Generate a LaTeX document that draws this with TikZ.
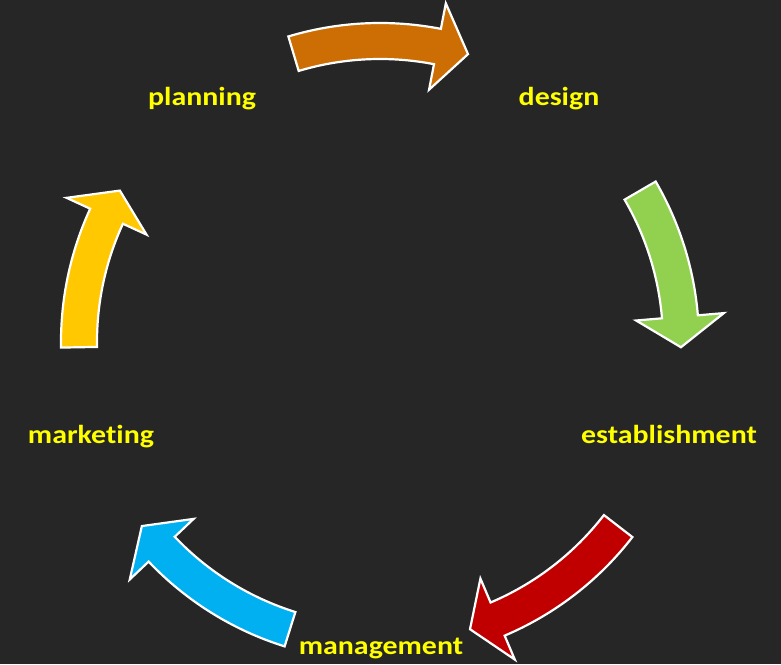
\documentclass[tikz,border=0pt]{standalone}
\usepackage{fontspec}
\setmainfont{Carlito}[FakeStretch=1.15, Ligatures=NoCommon]
\definecolor{bg}{RGB}{38,38,38}
\definecolor{cOrange}{RGB}{204,110,4}
\definecolor{cGreen}{RGB}{146,208,80}
\definecolor{cRed}{RGB}{192,0,0}
\definecolor{cBlue}{RGB}{0,176,240}
\definecolor{cGold}{RGB}{255,200,0}
\definecolor{cText}{RGB}{255,255,0}
\newcommand{\cycarrow}[5]{%
  \draw[cyclearrow, fill=#1] (#2:319) arc[start angle=#2, end angle=#3, radius=319]
    -- (#3:345) -- (#4:301) -- (#3:257) -- (#3:283)
    arc[start angle=#3, end angle=#2, radius=283] -- cycle;
  \coordinate (#5) at (#4:301);}
\begin{document}
\begin{tikzpicture}[x=1pt,y=1pt,
  cyclearrow/.style={draw=white, line width=2.2pt, line join=miter},
  lbl/.style={text=cText, font=\fontsize{26}{30}\selectfont\bfseries, anchor=base, inner sep=0pt}]
  \fill[bg] (0,0) rectangle (781,664);
  \useasboundingbox (0,0) rectangle (781,664);
  \node[lbl] (planning) at (202,558) {planning};
  \node[lbl] (design) at (559,558) {design};
  \node[lbl] (establishment) at (669,220) {establishment};
  \node[lbl] (management) at (381,10) {management};
  \node[lbl] (marketing) at (91,220) {marketing};
  \begin{scope}[shift={(380,322)}]
    \cycarrow{cOrange}{106.7}{79}{73}{tipA}
    \cycarrow{cGreen}{30.2}{4.8}{-1}{tipB}
    \cycarrow{cRed}{-37.7}{-67}{-72.6}{tipC}
    \cycarrow{cBlue}{-107.4}{-136.5}{-142.3}{tipD}
    \cycarrow{cGold}{-179}{-204.7}{-210.2}{tipE}
  \end{scope}
\end{tikzpicture}
\end{document}
